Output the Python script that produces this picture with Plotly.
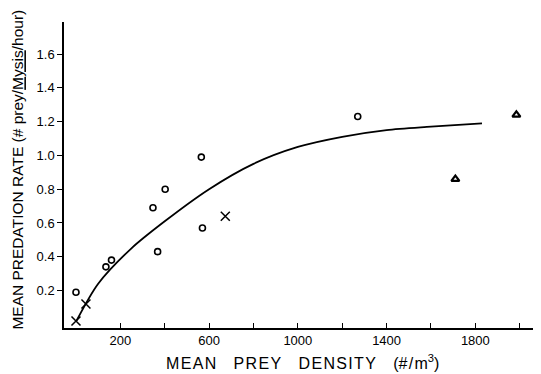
import plotly.graph_objects as go

# Data
circle_x = [0, 135, 160, 347, 368, 402, 565, 570, 1270]
circle_y = [0.19, 0.34, 0.38, 0.69, 0.43, 0.80, 0.99, 0.57, 1.23]
cross_x = [0, 45, 673]
cross_y = [0.02, 0.12, 0.64]
tri_x = [1710, 1985]
tri_y = [0.86, 1.24]
curve_x = [2, 100, 250, 400, 600, 800, 1000, 1200, 1400, 1600, 1830]
curve_y = [0.02, 0.24, 0.45, 0.61, 0.80, 0.95, 1.05, 1.11, 1.15, 1.17, 1.19]

x_tickvals = [200, 400, 600, 800, 1000, 1200, 1400, 1600, 1800, 2000]
x_ticktext = ["200", "", "600", "", "1000", "", "1400", "", "1800", ""]
y_tickvals = [0.2, 0.4, 0.6, 0.8, 1.0, 1.2, 1.4, 1.6]
y_ticktext = ["0.2", "0.4", "0.6", "0.8", "1.0", "1.2", "1.4", "1.6"]

x_title_words = ["MEAN", "PREY", "DENSITY"]
y_title = "MEAN PREDATION RATE (# prey/<u>Mysis</u>/hour)"

fig = go.Figure()
fig.add_trace(go.Scatter(x=curve_x, y=curve_y, mode="lines",
                         line=dict(color="black", width=1.8, shape="spline", smoothing=0.8),
                         hoverinfo="skip"))
fig.add_trace(go.Scatter(x=circle_x, y=circle_y, mode="markers",
                         marker=dict(symbol="circle-open", size=6, color="black",
                                     line=dict(width=1.6, color="black"))))
fig.add_trace(go.Scatter(x=cross_x, y=cross_y, mode="markers",
                         marker=dict(symbol="x-thin-open", size=9, color="black",
                                     line=dict(width=1.5, color="black"))))
fig.add_trace(go.Scatter(x=tri_x, y=tri_y, mode="markers",
                         marker=dict(symbol="triangle-up-open", size=7, color="black",
                                     line=dict(width=2.2, color="black"))))

font_family = "Liberation Sans, Arial, Helvetica, sans-serif"
HAIR = "\u200a"
EM = "\u2003"

x_title = (EM + HAIR).join(HAIR.join(w) for w in x_title_words) + EM + HAIR + \
    "(#" + HAIR + "/" + HAIR + "m<sup>3</sup>)"

# The page body has an 8px margin, so the figure is 8px smaller and margins shifted
fig.update_layout(
    width=533, height=366,
    margin=dict(l=56, r=0, t=14, b=46),
    paper_bgcolor="white", plot_bgcolor="white",
    showlegend=False,
    font=dict(family=font_family, color="black"),
    xaxis=dict(
        range=[-54, 2096], automargin=False,
        showgrid=False, zeroline=False,
        showline=True, linecolor="black", linewidth=1.5,
        ticks="inside", ticklen=5, tickwidth=1.2, tickcolor="black",
        tickvals=x_tickvals, ticktext=x_ticktext,
        tickfont=dict(size=13, family=font_family, color="black"),
    ),
    yaxis=dict(
        range=[-0.022, 1.79], automargin=False,
        showgrid=False, zeroline=False,
        showline=True, linecolor="black", linewidth=1.5,
        ticks="outside", ticklen=5, tickwidth=1.2, tickcolor="black",
        tickvals=y_tickvals, ticktext=y_ticktext,
        tickfont=dict(size=13, family=font_family, color="black"),
    ),
    annotations=[
        dict(text=x_title,
             xref="paper", yref="paper", x=0.5, y=-0.11,
             xanchor="center", yanchor="middle", showarrow=False,
             font=dict(size=16, family=font_family, color="black")),
        dict(text=y_title,
             xref="paper", yref="paper", x=-56 / 477, y=0.516,
             xanchor="left", yanchor="middle", textangle=-90, showarrow=False,
             borderpad=0,
             font=dict(size=15.5, family=font_family, color="black")),
    ],
)

fig.write_html("out.html")
